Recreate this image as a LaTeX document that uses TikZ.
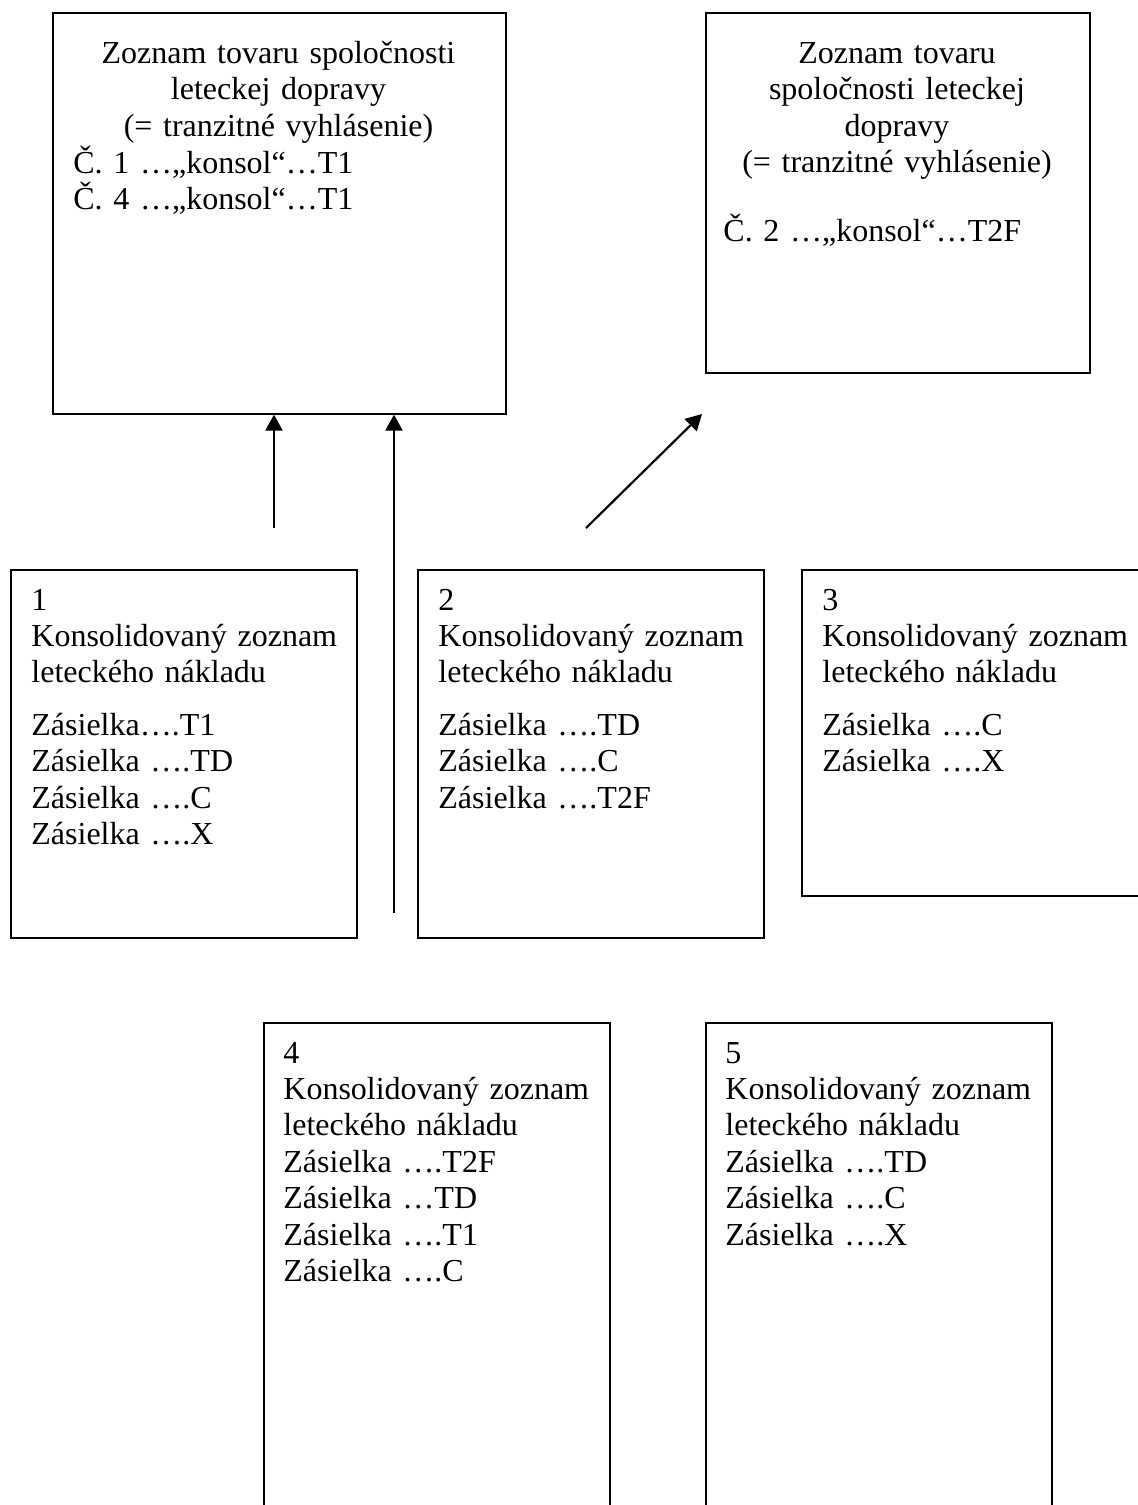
\documentclass[tikz,border=0pt]{standalone}
\usepackage{fontspec}
\setmainfont{Liberation Serif}
\usetikzlibrary{arrows.meta,positioning}

\begin{document}
\begin{tikzpicture}[x=0.5pt,y=-0.5pt,
  ram/.style={draw,line width=0.8pt,inner sep=0pt,anchor=north west},
  txt/.style={inner sep=0pt,text width=165pt,align=left,anchor=base west,font=\fontsize{16}{18.2}\selectfont},
  nadpis/.style={inner sep=0pt,text width=200pt,align=center,anchor=base,font=\fontsize{16}{18.3}\selectfont},
  sipka/.style={-{Triangle[length=8pt,width=8.5pt]},line width=1.1pt}]
\clip (0,0) rectangle (1138,1505);
\node[ram,minimum width=226.5pt,minimum height=200.5pt] (zA) at (52,12) {};
\node[ram,minimum width=192pt,minimum height=180pt] (zB) at (705,12) {};
\node[ram,minimum width=173pt,minimum height=184pt] (z1) at (10,569) {};
\node[ram,minimum width=173pt,minimum height=184pt] (z2) at (417,569) {};
\node[ram,minimum width=200pt,minimum height=163pt] (z3) at (801,569) {};
\node[ram,minimum width=173pt,minimum height=260pt] (z4) at (263,1022) {};
\node[ram,minimum width=173pt,minimum height=260pt] (z5) at (705,1022) {};
\node[nadpis] (tA) at (278.5,63) {Zoznam tovaru spoločnosti\\leteckej dopravy\\(= tranzitné vyhlásenie)};
\node[txt] (pA) at (73,173) {Č. 1 …„konsol“…T1\\Č. 4 …„konsol“…T1};
\node[nadpis] (tB) at (897,63) {Zoznam tovaru\\spoločnosti leteckej\\dopravy\\(= tranzitné vyhlásenie)};
\node[txt] (pB) at (723,241) {Č. 2 …„konsol“…T2F};
\node[txt] (t1) at (31,610) {1\\Konsolidovaný zoznam\\leteckého nákladu\\[8pt]Zásielka….T1\\Zásielka ….TD\\Zásielka ….C\\Zásielka ….X};
\node[txt] (t2) at (438,610) {2\\Konsolidovaný zoznam\\leteckého nákladu\\[8pt]Zásielka ….TD\\Zásielka ….C\\Zásielka ….T2F};
\node[txt] (t3) at (822,610) {3\\Konsolidovaný zoznam\\leteckého nákladu\\[8pt]Zásielka ….C\\Zásielka ….X};
\node[txt] (t4) at (283,1063) {4\\Konsolidovaný zoznam\\leteckého nákladu\\Zásielka ….T2F\\Zásielka …TD\\Zásielka ….T1\\Zásielka ….C};
\node[txt] (t5) at (725,1063) {5\\Konsolidovaný zoznam\\leteckého nákladu\\Zásielka ….TD\\Zásielka ….C\\Zásielka ….X};
\coordinate (s1) at (274,528);
\coordinate (s2) at (394,913);
\coordinate (s3) at (586,528);
\coordinate (e3) at (702,414);
\draw[sipka] (s1) -- (s1 |- zA.south);
\draw[sipka] (s2) -- (s2 |- zA.south);
\draw[sipka] (s3) -- (e3);
\end{tikzpicture}
\end{document}
